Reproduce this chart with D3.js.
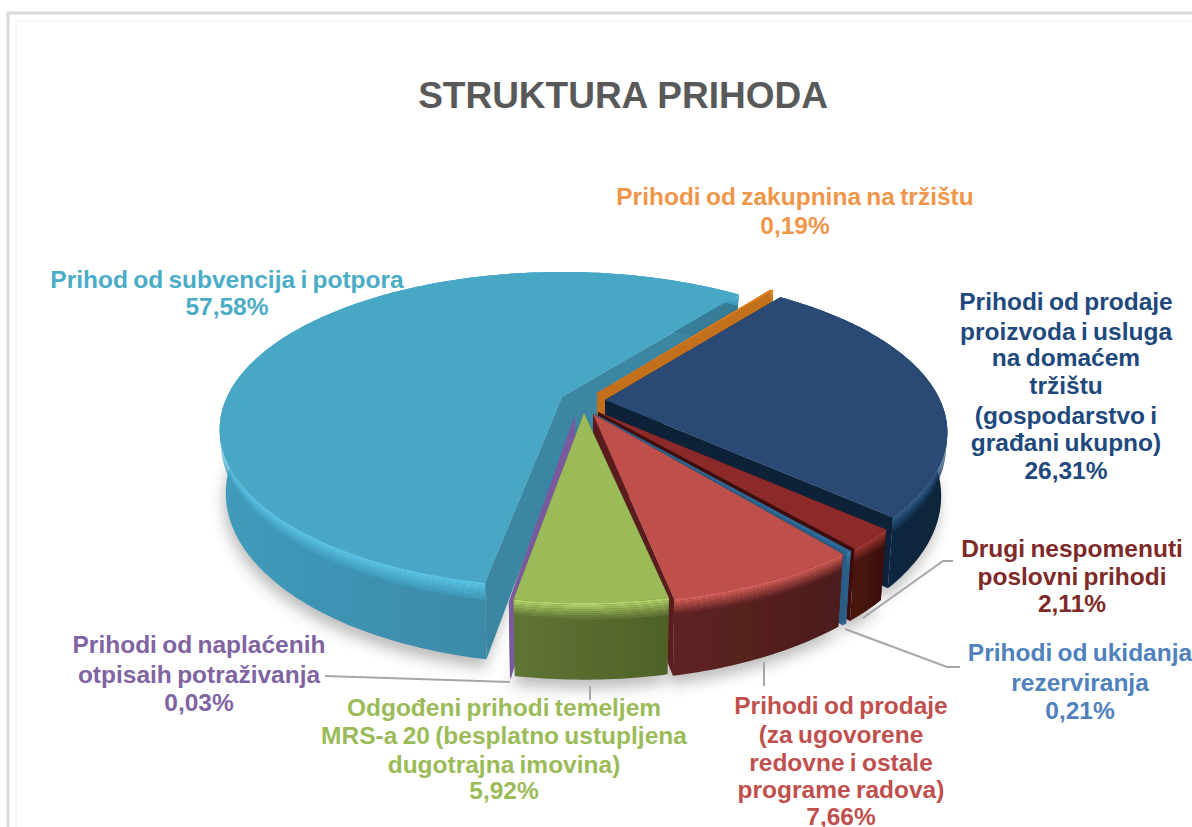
<!DOCTYPE html>
<html>
<head>
<meta charset="utf-8">
<script src="https://cdn.jsdelivr.net/npm/d3@7"></script>
<style>
  html, body { margin: 0; padding: 0; background: #fff; }
  text { font-family: "Liberation Sans", Arial, sans-serif; font-weight: bold; }
</style>
</head>
<body>
<div id="chart"></div>
<script>
// chart values, clockwise from the navy slice
var categories = [
  ["Prihodi od prodaje", "proizvoda i usluga", "na domaćem", "tržištu", "(gospodarstvo i", "građani ukupno)"],
  ["Drugi nespomenuti", "poslovni prihodi"],
  ["Prihodi od ukidanja", "rezerviranja"],
  ["Prihodi od prodaje", "(za ugovorene", "redovne i ostale", "programe radova)"],
  ["Odgođeni prihodi temeljem", "MRS-a 20 (besplatno ustupljena", "dugotrajna imovina)"],
  ["Prihodi od naplaćenih", "otpisaih potraživanja"],
  ["Prihod od subvencija i potpora"],
  ["Prihodi od zakupnina na tržištu"]
];
var shares = [26.31, 2.11, 0.21, 7.66, 5.92, 0.03, 57.58, 0.19];
var chartTitle = "STRUKTURA PRIHODA";

// slice colours
var topColors   = ["#2a4a75", "#8c2c2a", "#2f6a99", "#bf4f4c", "#9bbb59", "#7a5a9e", "#47a7c4", "#e07b1f"];
var wallLeft    = ["#12304f", "#4a1510", "#2b5f88", "#5e2321", "#5f7534", "#6d5290", "#409bbb", "#c2701f"];
var wallRight   = ["#0d2438", "#3c0f0b", "#295d86", "#4c1c1c", "#4f6128", "#6d5290", "#367a94", "#c2701f"];
var bevelColors = ["#35608f", "#a83a36", "#3f82b5", "#d9605c", "#b5d46c", "#9078b4", "#5cc6e8", "#e8903a"];
var cutColors   = ["#0b2239", "#3e0f0c", "#295d86", "#5a1f1e", "#5b6f30", "#7a5a9e", "#3a87a3", "#c2701f"];
var labelColors = ["#1f497d", "#7d2a28", "#4f81bd", "#c0504d", "#9bbb59", "#8064a2", "#4bacc6", "#f0964a"];

// 3D set up
var startDeg = 37;
var R = 335, tilt = 0.45, persp = 0.206, depth = 61, centerX = 590, centerY = 405;
// how far each slice is pulled out of the pie, in px
var pullX = [15, 8, 5, 3, -6, -15, -28, 7];
var pullY = [-5, 7, 9, 9, 8, 10, -8, -12];
// small correction of each slice's turn, the perspective of the original is not quite ours
var turnDeg = [0.5, 0.5, 0.7, 1.2, 0.7, 0, 1.5, 0.7];
var drawOrder = [6, 7, 0, 1, 2, 3, 5, 4];

var labelX = [1066, 1072, 1080, 841, 504, 199, 227, 795];
var labelY = [[310, 340, 366, 394, 424, 451, 479], [557, 585, 612], [661, 691, 719],
              [714, 743, 771, 798, 825], [716, 744, 773, 799], [653, 683, 711], [288, 315], [205, 234]];

var leaders = [
  [[764, 662], [764, 686]],
  [[863, 618], [943, 561], [953, 561]],
  [[845, 629], [947, 667], [960, 667]],
  [[590, 686], [590, 700]],
  [[510, 682], [325, 676]]
];

var width = 1192, height = 827;

var svg = d3.select("#chart").append("svg")
  .attr("width", width)
  .attr("height", height)
  .style("display", "block");

var defs = svg.append("defs");
defs.append("filter").attr("id", "shadow")
  .attr("x", "-10%").attr("y", "-10%").attr("width", "120%").attr("height", "130%")
  .append("feGaussianBlur").attr("stdDeviation", 7);
defs.append("filter").attr("id", "soft")
  .append("feGaussianBlur").attr("stdDeviation", 0.6);

// frame of the pasted chart
svg.append("path").attr("d", "M8,827V13H1192").attr("fill", "none").attr("stroke", "#d9d9d9").attr("stroke-width", 3);
svg.append("path").attr("d", "M16,827V21H1192").attr("fill", "none").attr("stroke", "#f7f7f7").attr("stroke-width", 2);

svg.append("text")
  .attr("x", 623).attr("y", 108)
  .attr("text-anchor", "middle")
  .attr("font-size", 37)
  .attr("fill", "#595959")
  .text(chartTitle);

var pie = d3.pie().sort(null).value(function(d) { return d; })
  .startAngle(startDeg * Math.PI / 180)
  .endAngle(startDeg * Math.PI / 180 + 2 * Math.PI);
var arcs = pie(shares).map(function(d, i) {
  var turn = turnDeg[i] * Math.PI / 180;
  return {startAngle: d.startAngle + turn, endAngle: d.endAngle + turn};
});

// a point on the disc (angle clockwise from the back, z 0 top .. 1 bottom) to the screen
function project(angle, z, i) {
  var u = Math.sin(angle), v = -Math.cos(angle);
  var s = 1 / (1 - persp * v);
  return [
    centerX + pullX[i] + R * u * s * (1 - 0.018 * z),
    centerY + pullY[i] + R * tilt * v * s + depth * z * s
  ];
}
function apex(z, i) {
  return [centerX + pullX[i], centerY + pullY[i] + depth * z];
}
function rimAngles(d) {
  var n = Math.max(2, Math.ceil((d.endAngle - d.startAngle) * 60));
  return d3.range(n + 1).map(function(k) { return d.startAngle + (d.endAngle - d.startAngle) * k / n; });
}

var line = d3.line().curve(d3.curveLinear);

function band(d, i, z0, z1) {
  var angs = rimAngles(d);
  var a = angs.map(function(t) { return project(t, z0, i); });
  var b = angs.map(function(t) { return project(t, z1, i); }).reverse();
  return line(a.concat(b)) + "Z";
}

var pieG = svg.append("g").attr("filter", "url(#soft)");

// soft shadow under the whole thing
var shadowG = pieG.append("g").attr("filter", "url(#shadow)").attr("opacity", 0.38);
arcs.forEach(function(d, i) {
  var pts = [apex(1, i)].concat(rimAngles(d).map(function(t) { return project(t, 1, i); }));
  shadowG.append("path")
    .attr("d", line(pts) + "Z")
    .attr("transform", "translate(-2,9)")
    .attr("fill", "#555");
});

drawOrder.forEach(function(i) {
  var d = arcs[i];
  var g = pieG.append("g").attr("class", "slice");

  // the two cut faces
  [d.startAngle, d.endAngle].forEach(function(t) {
    g.append("path")
      .attr("d", line([apex(0, i), project(t, 0, i), project(t, 1, i), apex(1, i)]) + "Z")
      .attr("fill", cutColors[i]);
  });

  // outer wall, darker to the right
  var gradId = "wall" + i;
  var xs = rimAngles(d).map(function(t) { return project(t, 0, i)[0]; });
  var grad = defs.append("linearGradient").attr("id", gradId)
    .attr("gradientUnits", "userSpaceOnUse")
    .attr("x1", d3.min(xs)).attr("x2", d3.max(xs)).attr("y1", 0).attr("y2", 0);
  grad.append("stop").attr("offset", "0%").attr("stop-color", wallLeft[i]);
  grad.append("stop").attr("offset", "100%").attr("stop-color", wallRight[i]);
  g.append("path").attr("d", band(d, i, 0, 1)).attr("fill", "url(#" + gradId + ")");

  // bevel along the top of the wall
  var nBands = 8;
  var fade = d3.interpolateLab(bevelColors[i], wallLeft[i]);
  d3.range(nBands).forEach(function(k) {
    g.append("path")
      .attr("d", band(d, i, 0.22 * k / nBands, 0.22 * (k + 1) / nBands))
      .attr("fill", fade(k / (nBands - 1)));
  });

  // top face
  var topPts = [apex(0, i)].concat(rimAngles(d).map(function(t) { return project(t, 0, i); }));
  g.append("path").attr("d", line(topPts) + "Z").attr("fill", topColors[i]);
});

// leader lines
svg.selectAll(".leader")
    .data(leaders)
  .enter()
    .append("path")
    .attr("class", "leader")
    .attr("d", function(d) { return line(d); })
    .attr("fill", "none")
    .attr("stroke", "#a6a6a6")
    .attr("stroke-width", 2);

// labels
var pct = function(v) { return v.toFixed(2).replace(".", ",") + "%"; };
categories.forEach(function(lines, i) {
  var all = lines.concat([pct(shares[i])]);
  var t = svg.append("text")
    .attr("text-anchor", "middle")
    .attr("font-size", 24.5)
    .attr("word-spacing", -1.5)
    .attr("fill", labelColors[i]);
  all.forEach(function(s, k) {
    t.append("tspan").attr("x", labelX[i]).attr("y", labelY[i][k]).text(s);
  });
});
</script>
</body>
</html>
